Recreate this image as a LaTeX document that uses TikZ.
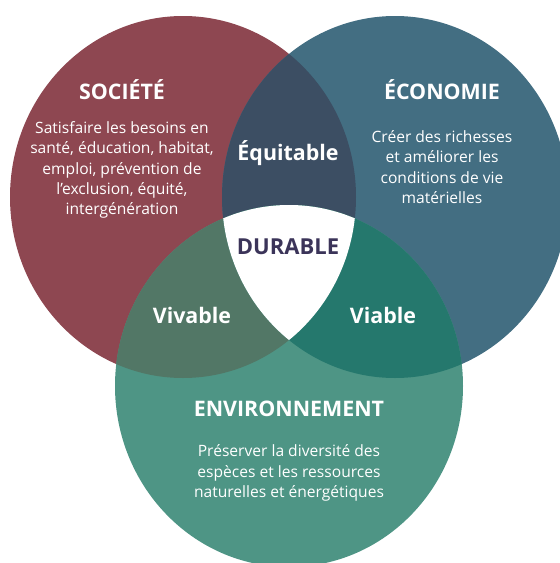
\documentclass[tikz,border=0pt]{standalone}
\usepackage{fontspec}
\setmainfont{Open Sans}
\definecolor{societe}{HTML}{8E4751}
\definecolor{economie}{HTML}{436E82}
\definecolor{environ}{HTML}{4E9585}
\definecolor{equitable}{HTML}{3C4E63}
\definecolor{vivable}{HTML}{527766}
\definecolor{viable}{HTML}{25786D}
\definecolor{durable}{HTML}{3B3459}
\newcommand\socpath{(183,197) ellipse [x radius=173pt, y radius=181pt]}
\newcommand\ecopath{(395,197) ellipse [x radius=173pt, y radius=181pt]}
\newcommand\envpath{(289,386) ellipse [x radius=174pt, y radius=181pt]}
\begin{document}
\begin{tikzpicture}[
        x=1pt, y=-1pt,
        title/.style={text=white, font=\bfseries\fontsize{21.4}{24}\selectfont},
        body/.style={text=white, align=center, font=\fontsize{15.6}{20.3}\selectfont},
        inter/.style={text=white, font=\bfseries\fontsize{21.4}{24}\selectfont}
    ]
    \useasboundingbox (0,0) rectangle (560,563);
    \clip (0,0) rectangle (560,563);
    % the three spheres
    \fill[societe] \socpath;
    \fill[economie] \ecopath;
    \begin{scope}
        \clip \socpath;
        \fill[equitable] \ecopath;
    \end{scope}
    \fill[environ] \envpath;
    \begin{scope}
        \clip \envpath;
        \fill[vivable] \socpath;
        \fill[viable] \ecopath;
        \clip \socpath;
        \fill[white] \ecopath;
    \end{scope}
    % labels
    \node[title] (societe) at (122,90) {SOCIÉTÉ};
    \node[body] (besoins) at (122,170) {Satisfaire les besoins en\\santé, éducation, habitat,\\emploi, prévention de\\l’exclusion, équité,\\intergénération};
    \node[title] (economie) at (442,90) {ÉCONOMIE};
    \node[body] (richesses) at (442,167) {Créer des richesses\\et améliorer les\\conditions de vie\\matérielles};
    \node[title] (environnement) at (289,409) {ENVIRONNEMENT};
    \node[body] (diversite) at (289,473) {Préserver la diversité des\\espèces et les ressources\\naturelles et énergétiques};
    \node[inter] (equi) at (288,153) {Équitable};
    \node[inter] (viva) at (192,315) {Vivable};
    \node[inter] (via) at (383,315) {Viable};
    \node[title, text=durable, font=\bfseries\fontsize{22}{24}\selectfont] (dur) at (288,247) {DURABLE};
\end{tikzpicture}
\end{document}
